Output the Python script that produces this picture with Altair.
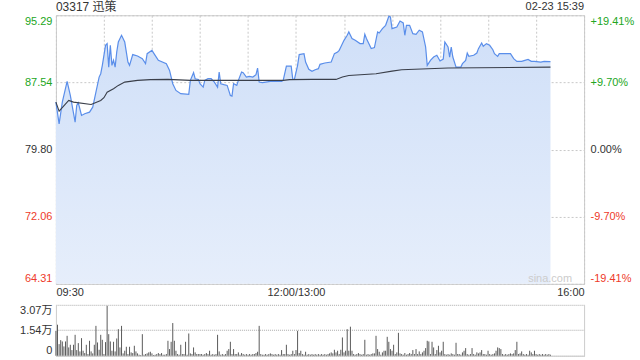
import altair as alt
import pandas as pd

FONT = "Liberation Sans, Noto Sans CJK SC, sans-serif"
PREV_CLOSE = 79.80
Y_MIN, Y_MAX = 64.31, 95.29
Y_TICKS = [64.31, 72.06, 79.80, 87.54, 95.29]
VOL_MAX = 30700
VOL_TICKS = [0, 15400, 30700]
TITLE = "03317 迅策"
STAMP = "02-23 15:39"
WATERMARK = "sina.com"

price_times = ["09:30", "09:32", "09:34", "09:37", "09:39", "09:42", "09:43", "09:44", "09:46", "09:48",
               "09:51", "09:53", "09:55", "09:57", "09:58", "09:59", "10:01", "10:02", "10:03", "10:04",
               "10:05", "10:06", "10:07", "10:08", "10:09", "10:11", "10:13", "10:15", "10:16", "10:18",
               "10:21", "10:24", "10:26", "10:27", "10:30", "10:32", "10:34", "10:39", "10:41", "10:43",
               "10:45", "10:48", "10:53", "10:54", "10:56", "10:57", "10:59", "11:00", "11:02", "11:03",
               "11:05", "11:07", "11:09", "11:11", "11:12", "11:13", "11:15", "11:17", "11:19", "11:20",
               "11:21", "11:23", "11:24", "11:26", "11:27", "11:29", "11:31", "11:33", "11:35", "11:36",
               "11:37", "11:39", "11:41", "11:44", "11:51", "11:52", "11:54", "11:57", "11:58", "11:59",
               "13:01", "13:02", "13:05", "13:06", "13:08", "13:10", "13:12", "13:14", "13:15", "13:18",
               "13:22", "13:24", "13:26", "13:27", "13:28", "13:30", "13:32", "13:33", "13:35", "13:37",
               "13:40", "13:42", "13:43", "13:44", "13:47", "13:49", "13:51", "13:52", "13:54", "13:56",
               "13:58", "13:59", "14:00", "14:03", "14:05", "14:07", "14:08", "14:09", "14:11", "14:13",
               "14:15", "14:17", "14:19", "14:21", "14:22", "14:24", "14:26", "14:28", "14:30", "14:32",
               "14:33", "14:35", "14:36", "14:37", "14:38", "14:40", "14:43", "14:44", "14:46", "14:47",
               "14:48", "14:51", "14:53", "14:54", "14:56", "14:57", "14:59", "15:01", "15:03", "15:04",
               "15:06", "15:07", "15:14", "15:16", "15:18", "15:21", "15:23", "15:25", "15:27", "15:29",
               "15:33", "15:35", "15:39"]
price_values = [85.27, 82.77, 85.27, 87.66, 86.04, 82.96, 84.89, 85.20, 83.73, 83.93,
                84.11, 84.69, 86.42, 88.16, 88.55, 89.51, 91.82, 92.02, 89.31, 91.82,
                89.51, 90.09, 89.31, 91.05, 92.20, 92.98, 92.20, 89.89, 89.51, 90.75,
                90.59, 90.28, 89.71, 90.86, 91.24, 90.67, 90.09, 89.71, 88.93, 87.39,
                86.62, 86.24, 86.16, 87.78, 88.67, 87.97, 87.89, 87.39, 87.00, 87.78,
                87.97, 87.97, 87.58, 87.00, 88.74, 87.39, 87.28, 87.20, 86.04, 85.96,
                87.39, 87.20, 87.78, 88.74, 88.67, 88.16, 88.24, 88.16, 88.43, 89.20,
                87.58, 87.51, 87.58, 87.66, 87.66, 87.78, 89.43, 89.43, 87.89, 87.89,
                89.51, 90.75, 90.86, 89.89, 89.05, 88.82, 89.01, 89.13, 89.63, 89.78,
                89.89, 90.86, 91.05, 91.24, 91.63, 92.40, 92.98, 93.36, 92.60, 92.40,
                92.02, 92.02, 93.09, 92.60, 91.44, 91.56, 93.36, 93.24, 93.75, 94.13,
                95.17, 95.09, 93.75, 93.94, 94.63, 94.40, 92.98, 94.13, 94.13, 93.17,
                93.09, 93.56, 93.36, 91.63, 89.51, 90.09, 90.47, 90.67, 90.01, 90.24,
                92.20, 91.63, 90.47, 91.63, 90.47, 89.31, 89.31, 89.71, 90.09, 90.93,
                90.55, 90.67, 90.93, 91.44, 92.09, 91.71, 92.02, 91.82, 91.32, 90.86,
                90.55, 90.86, 90.86, 90.28, 89.97, 89.97, 90.09, 90.20, 89.97, 89.97,
                89.89, 89.97, 89.94]

avg_times = ["09:30", "09:32", "09:38", "09:41", "09:52", "09:58", "10:00", "10:02", "10:06", "10:09",
             "10:13", "10:21", "10:29", "10:40", "10:54", "11:52", "11:56", "13:10", "13:25", "13:29",
             "13:33", "13:50", "14:00", "14:06", "14:35", "15:39"]
avg_values = [85.27, 84.23, 85.46, 85.27, 85.00, 85.46, 85.78, 86.42, 86.82, 87.20,
              87.58, 87.78, 87.86, 87.89, 87.78, 87.78, 87.86, 87.89, 87.89, 88.16,
              88.35, 88.55, 88.85, 89.01, 89.20, 89.31]

vol_am = [15000, 18700, 7000, 9400, 8600, 5600, 8600, 12000, 5000, 6600,
          3400, 6600, 12600, 3400, 7600, 2600, 10600, 3000, 1600, 6600,
          1000, 9000, 2600, 1400, 6600, 18000, 8000, 3600, 12600, 9600,
          1000, 8200, 30100, 13000, 8600, 3000, 8400, 2600, 10400, 16000,
          5000, 18000, 1400, 3000, 5400, 1000, 5400, 2000, 1600, 6000,
          2600, 1400, 600, 400, 13000, 600, 1000, 1400, 2000, 2400,
          1400, 400, 600, 1000, 1600, 1000, 1600, 600, 600,
          1000, 9000, 4000, 8400, 19700, 9000, 3000, 1000, 600, 6600,
          1000, 1000, 8400, 600, 13400, 1400, 1000, 5000, 2000, 1000,
          1000, 1000, 1000, 600, 1000, 1600, 1000, 3000, 600,
          1000, 600, 1000, 12600, 2600, 600, 1000, 600, 1000, 3000,
          4000, 8400, 1000, 4000, 1000, 1000, 2000, 600, 1600, 1000,
          600, 1000, 600, 1000, 600, 1000, 1000, 1600, 2400, 18000,
          1000, 600, 600, 1000, 600, 1000, 1400, 1000, 600, 1000,
          600, 1000, 600, 3400, 1000, 1000, 6600, 1000, 600, 1000,
          3000, 1000, 3400]
vol_pm = [15000, 1600, 3000, 1000, 600,
          2400, 600, 1000, 600, 1000, 600, 1000, 600, 1000, 600,
          1000, 600, 1000, 600, 1000, 1400, 2000, 1400, 3600, 2000,
          3000, 1000, 3600, 11000, 2000, 3000, 16000, 3000, 17500, 3000,
          1000, 600, 1000, 1600, 1000, 600, 1000, 9600, 600, 1000,
          600, 1000, 1400, 1400, 12000, 4000, 2400, 600, 2000, 3000,
          3000, 11400, 8400, 4000, 3000, 6600, 1000, 2000, 13800, 1400,
          1000, 600, 1600, 600, 1000, 1600, 1000, 3400, 1000, 4000,
          1000, 2600, 1000, 2000, 3000, 4600, 9000, 8600, 1000, 8400,
          5000, 1000, 3400, 6000, 2000, 3000, 8400, 1000, 600, 1000,
          600, 1400, 1000, 600, 7800, 1000, 1000, 600, 2000, 3000,
          4600, 1000, 600, 1000, 4600, 1000, 600, 2000, 1400, 2000,
          3400, 1000, 1000, 600, 3000, 1000, 600, 1000, 1400, 3000,
          5000, 4600, 4000, 1000, 600, 1000, 600, 1000, 1400, 1000,
          1400, 3400, 8400, 1000, 1400, 2600, 1000, 600, 1000, 600,
          3000, 2000, 1000, 3000, 1000, 600, 1000, 600, 1000, 600,
          1000, 600, 1000, 600]


def idx(t):
    h, m = map(int, t.split(":"))
    tm = h * 60 + m
    return tm - 570 if tm <= 720 else tm - 780 + 150


price_df = pd.DataFrame({"t": [idx(t) for t in price_times], "p": price_values, "base": Y_MIN})
avg_df = pd.DataFrame({"t": [idx(t) for t in avg_times], "p": avg_values})
vol_df = pd.DataFrame({
    "t": list(range(len(vol_am))) + list(range(310 - len(vol_pm), 310)),
    "v": vol_am + vol_pm,
})

GREEN = "#22a622"
RED = "#ee3a2a"
DARK = "#333333"
GRID = "#c8c8c8"

x_scale = alt.Scale(domain=[0, 330], nice=False, zero=False)
y_scale = alt.Scale(domain=[Y_MIN, Y_MAX], nice=False, zero=False)

label_color = {
    "condition": [
        {"test": "datum.value > %f" % (PREV_CLOSE + 0.001), "value": GREEN},
        {"test": "datum.value < %f" % (PREV_CLOSE - 0.001), "value": RED},
    ],
    "value": DARK,
}

x_axis = alt.Axis(
    values=list(range(0, 331, 30)),
    labelExpr="datum.value == 0 ? '09:30' : datum.value == 150 ? '12:00/13:00' : datum.value == 330 ? '16:00' : ''",
    labelFlush=True, labelOverlap=False, grid=True, gridDash=[2, 2], gridColor=GRID,
    ticks=False, domain=False, labelPadding=3, labelColor=DARK, title=None,
)
y_left_axis = alt.Axis(
    values=Y_TICKS, format=".2f", labelFlush=True, grid=True, gridDash=[2, 2], gridColor=GRID,
    ticks=False, domain=False, labelPadding=4, labelColor=label_color,
    minExtent=50, maxExtent=50, title=None,
)
pct = "(datum.value - %f) / %f * 100" % (PREV_CLOSE, PREV_CLOSE)
y_right_axis = alt.Axis(
    orient="right", values=Y_TICKS, labelFlush=True, grid=False, ticks=False, domain=False,
    labelPadding=6, labelColor=label_color, minExtent=50, maxExtent=50, title=None,
    labelExpr="abs(%s) < 0.001 ? '0.00%%' : ((%s) > 0 ? '+' : '-') + format(abs(%s), '.2f') + '%%'"
              % (pct, pct, pct),
)

base = alt.Chart(price_df)
area = base.mark_area(
    color=alt.Gradient(
        gradient="linear",
        stops=[alt.GradientStop(color="#cfdff8", offset=0), alt.GradientStop(color="#e6eefb", offset=1)],
        x1=0, x2=0, y1=0, y2=1,
    )
).encode(
    x=alt.X("t:Q", scale=x_scale, axis=x_axis),
    y=alt.Y("p:Q", scale=y_scale, axis=y_left_axis),
    y2="base:Q",
)
line = base.mark_line(color="#5a8eea", strokeWidth=1.2).encode(
    x=alt.X("t:Q", scale=x_scale), y=alt.Y("p:Q", scale=y_scale)
)
avg = alt.Chart(avg_df).mark_line(color="#3a3f4a", strokeWidth=1.1).encode(
    x=alt.X("t:Q", scale=x_scale), y=alt.Y("p:Q", scale=y_scale)
)
right = base.mark_line(opacity=0).encode(
    x=alt.X("t:Q", scale=x_scale), y=alt.Y("p:Q", scale=y_scale, axis=y_right_axis)
)

title_txt = alt.Chart(pd.DataFrame({"s": [TITLE]})).mark_text(
    align="left", baseline="middle", fontSize=12, color=DARK
).encode(text="s:N", x=alt.value(0), y=alt.value(-8))
stamp_txt = alt.Chart(pd.DataFrame({"s": [STAMP]})).mark_text(
    align="right", baseline="middle", fontSize=11, color=DARK
).encode(text="s:N", x=alt.value(529), y=alt.value(-8))
mark_txt = alt.Chart(pd.DataFrame({"s": [WATERMARK]})).mark_text(
    align="right", baseline="middle", fontSize=11, color="#cccccc"
).encode(text="s:N", x=alt.value(517), y=alt.value(264))

main = alt.layer(
    alt.layer(area, line, avg, mark_txt, title_txt, stamp_txt),
    right,
).resolve_scale(y="independent").properties(width=529, height=269)

vol_bars = alt.Chart(vol_df).mark_rule(color="#5a5a5a", strokeWidth=1).encode(
    x=alt.X("t:Q", scale=x_scale, axis=alt.Axis(labels=False, ticks=False, grid=False, domain=True,
                                                domainColor="#cccccc", title=None)),
    y=alt.Y("v:Q", scale=alt.Scale(domain=[0, VOL_MAX], nice=False),
            axis=alt.Axis(values=VOL_TICKS, labelFlush=True, grid=True, gridDash=[1, 1], gridColor="#aaaaaa",
                          ticks=False, domain=True, domainColor="#cccccc", labelPadding=4, labelColor=DARK,
                          minExtent=50, maxExtent=50, title=None,
                          labelExpr="datum.value == 0 ? '0' : format(datum.value / 10000, '.2f') + '万'")),
    y2=alt.datum(0),
)
vol_right = alt.Chart(vol_df).mark_rule(opacity=0).encode(
    x=alt.X("t:Q", scale=x_scale),
    y=alt.Y("v:Q", scale=alt.Scale(domain=[0, VOL_MAX], nice=False),
            axis=alt.Axis(orient="right", labels=False, ticks=False, grid=False, domain=True,
                          domainColor="#cccccc", minExtent=50, maxExtent=50, title=None)),
)
vol = alt.layer(vol_bars, vol_right).resolve_scale(y="independent").properties(
    width=529, height=51, view=alt.ViewBackground(strokeOpacity=0)
)

chart = alt.vconcat(main, vol, spacing=6).properties(
    padding={"left": 5, "top": 0, "right": 5, "bottom": 0}
).configure_view(stroke="#cccccc").configure_axis(
    labelFont=FONT, labelFontSize=11
).configure_text(font=FONT)

chart.save("out.html", embed_options={"renderer": "svg", "actions": False})
